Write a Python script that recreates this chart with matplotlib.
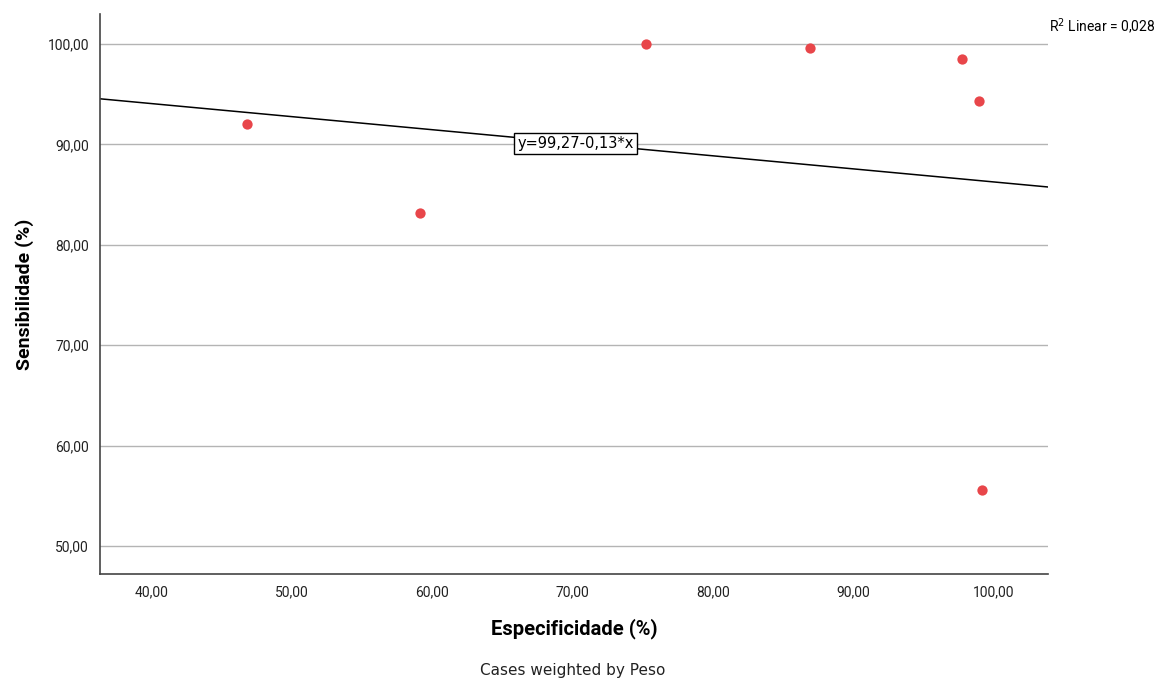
import matplotlib
matplotlib.use("Agg")
import matplotlib.pyplot as plt
import numpy as np

especificidade = [46.8, 59.1, 75.2, 86.9, 97.8, 99.0, 99.2]
sensibilidade = [92.0, 83.2, 100.0, 99.6, 98.5, 94.3, 55.6]
intercept = 99.27
slope = -0.13
xticks = [40, 50, 60, 70, 80, 90, 100]
yticks = [50, 60, 70, 80, 90, 100]

plt.rcParams['font.family'] = ['Roboto', 'DejaVu Sans']

fig = plt.figure(figsize=(11.57, 6.80), dpi=100)
ax = fig.add_axes([100/1157, 1 - 574/680, 948/1157, 560/680])

ax.set_xlim(36.3, 103.9)
ax.set_ylim(47.2, 103.0)

ax.grid(axis='y', color='#b4b4b4', linewidth=1)
ax.set_axisbelow(True)

# fit line from the reported equation
xs = np.array(ax.get_xlim())
ax.plot(xs, intercept + slope * xs, color='black', linewidth=1.1, zorder=2)

ax.scatter(especificidade, sensibilidade, s=55, color='#e8464a', zorder=3, linewidths=0)

ax.text(70.2, 90.1, 'y=99,27-0,13*x', ha='center', va='center', fontsize=10.5,
        family='DejaVu Sans',
        bbox=dict(boxstyle='square,pad=0.2', facecolor='white', edgecolor='black', linewidth=1), zorder=4)

ax.set_xticks(xticks)
ax.set_yticks(yticks)
ax.set_xticklabels(['%d,00' % v for v in xticks])
ax.set_yticklabels(['%d,00' % v for v in yticks])
ax.tick_params(length=0, labelsize=10, colors='#222222', pad=8)

for s in ['top', 'right']:
    ax.spines[s].set_visible(False)
for s in ['left', 'bottom']:
    ax.spines[s].set_color('#444444')
    ax.spines[s].set_linewidth(1.2)

ax.set_xlabel('Especificidade (%)', fontsize=14.5, fontweight='bold', labelpad=14)
ax.set_ylabel('Sensibilidade (%)', fontsize=14, fontweight='bold', labelpad=10)

fig.text(1155/1157, 1 - 27/680, 'R$^2$ Linear = 0,028', ha='right', va='center', fontsize=10)
fig.text(573/1157, 1 - 670/680, 'Cases weighted by Peso', ha='center', va='center',
         fontsize=11, family='DejaVu Sans', color='#222222')

fig.savefig('out.png', dpi=100)
